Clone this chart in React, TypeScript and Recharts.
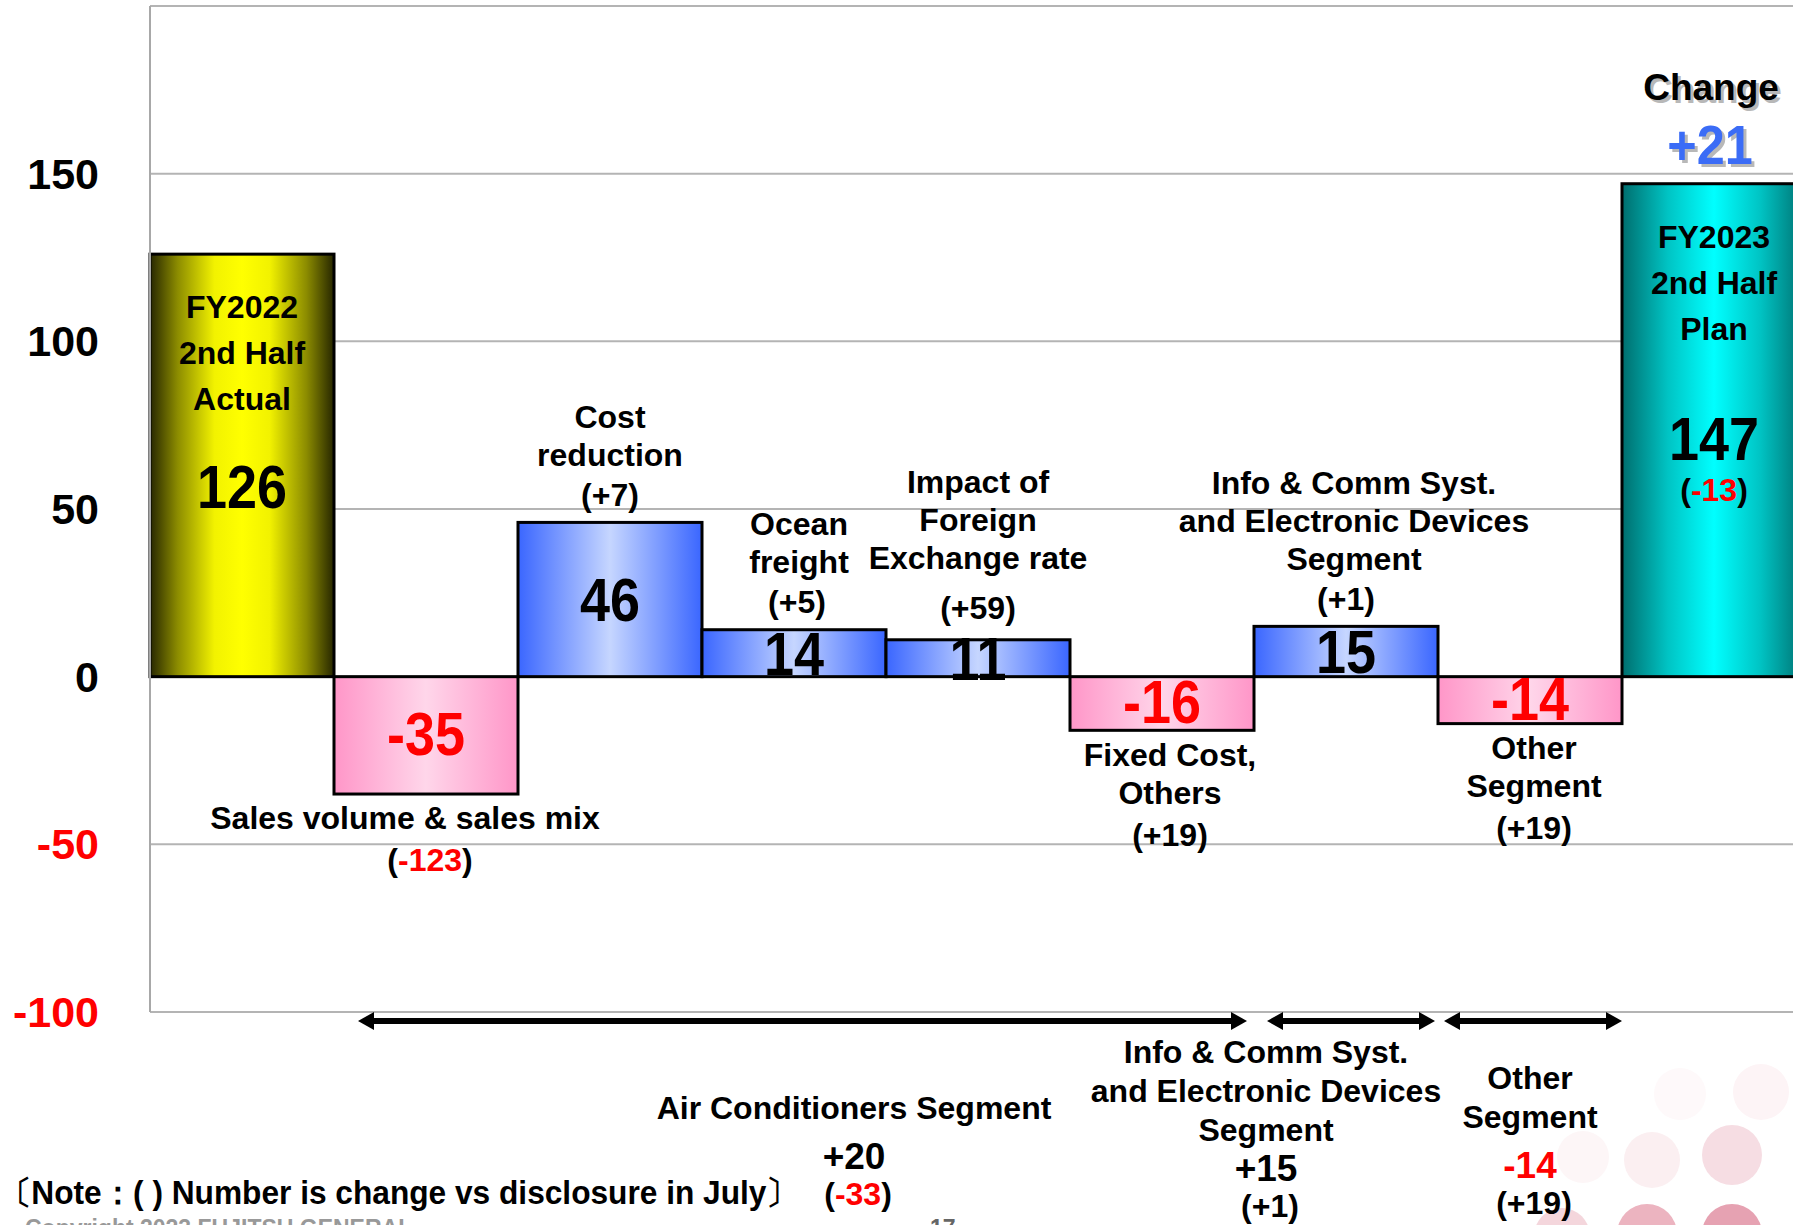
import React from 'react';
import { BarChart, Bar, XAxis, YAxis, CartesianGrid, ReferenceArea } from 'recharts';

const FONT = '"Liberation Sans", Arial, Helvetica, sans-serif';

// ---------- data ----------
const categories = [
  'FY2022 2nd Half Actual',
  'Sales volume & sales mix',
  'Cost reduction',
  'Ocean freight',
  'Impact of Foreign Exchange rate',
  'Fixed Cost, Others',
  'Info & Comm Syst. and Electronic Devices Segment',
  'Other Segment',
  'FY2023 2nd Half Plan',
];
const values = [126, -35, 46, 14, 11, -16, 15, -14, 147];
const labelLines = [
  ['FY2022', '2nd Half', 'Actual'],
  ['Sales volume & sales mix'],
  ['Cost', 'reduction'],
  ['Ocean', 'freight'],
  ['Impact of', 'Foreign', 'Exchange rate'],
  ['Fixed Cost,', 'Others'],
  ['Info & Comm Syst.', 'and Electronic Devices', 'Segment'],
  ['Other', 'Segment'],
  ['FY2023', '2nd Half', 'Plan'],
];
const notes = ['', '-123', '+7', '+5', '+59', '+19', '+1', '+19', '-13'];
const yTicks = [-100, -50, 0, 50, 100, 150, 200];
const changeTitle = 'Change';
const changeValue = '+21';

const segNames = [
  ['Air Conditioners Segment'],
  ['Info & Comm Syst.', 'and Electronic Devices', 'Segment'],
  ['Other', 'Segment'],
];
const segValues = ['+20', '+15', '-14'];
const segNotes = ['-33', '+1', '+19'];
const segFrom = [categories[1], categories[6], categories[7]];
const segTo = [categories[5], categories[6], categories[7]];

const noteText = '〔Note：(   ) Number is change vs disclosure in July〕';
const copyright = 'Copyright 2023 FUJITSU GENERAL';
const pageNo = '17';

// ---------- layout (positions/styles only) ----------
const extraNoteGap: Record<number, number> = { 4: 10 };
const noteDy: Record<number, number> = { 4: -4 };
const nameDx: Record<number, number> = { 1: -21, 3: 5, 5: 8, 6: 8, 7: 4 };
const noteDx: Record<number, number> = { 1: 4, 3: 3, 5: 8, 7: 4 };
const totalValueDy: Record<number, number> = { 0: 232, 8: 255 };
const segInset = [[24, -7], [13, -3], [6, 0]];
const segDx = [60, -80, 0];
const segNoteDy = [182, 194, 191];
const segNameGap = [48, 38, 48];

const data = categories.map((name, i) => ({ name, value: values[i] }));

const RED = '#ff0000';

const T = ({ x, y, size = 32, sx = 1, fill = '#000', anchor = 'middle', children, shadow }: any) => (
  <g>
    {shadow && (
      <text transform={`translate(${x + 3},${y + 3}) scale(${sx},1)`} textAnchor={anchor} dy="0.35em"
        fontSize={size} fontWeight="bold" fontFamily={FONT} fill="#b8b8b8">{children}</text>
    )}
    <text transform={`translate(${x},${y}) scale(${sx},1)`} textAnchor={anchor} dy="0.35em"
      fontSize={size} fontWeight="bold" fontFamily={FONT} fill={fill}>{children}</text>
  </g>
);

const Note = ({ x, y, note, size = 32 }: any) => (
  <T x={x} y={y} size={size}>
    ({<tspan fill={note.startsWith('-') ? RED : '#000'}>{note}</tspan>})
  </T>
);

const BarShape = (props: any) => {
  const { x, y, width, height } = props;
  let index = props.index;
  if (index === undefined || index === null) index = categories.indexOf(props.payload?.name);
  const top = Math.min(y, y + height);
  const bottom = Math.max(y, y + height);
  const v = values[index];
  const last = categories.length - 1;
  const kind = index === 0 ? 'start' : index === last ? 'end' : v >= 0 ? 'up' : 'down';
  const fill = { start: 'url(#gYellow)', end: 'url(#gCyan)', up: 'url(#gBlue)', down: 'url(#gPink)' }[kind];
  const cx = x + width / 2;
  const lines = labelLines[index];
  const note = notes[index];
  const els: any[] = [];
  const ncx = cx + (nameDx[index] || 0);
  const nocx = cx + (noteDx[index] || 0);

  if (kind === 'start' || kind === 'end') {
    lines.forEach((l, i) => els.push(<T key={'n' + i} x={cx} y={top + 53 + 46 * i} size={32}>{l}</T>));
    const vy = top + totalValueDy[index];
    els.push(<T key="v" x={cx} y={vy} size={62} sx={0.87}>{v}</T>);
    if (note) els.push(<Note key="note" x={cx} y={vy + 51} note={note} />);
    if (kind === 'end') {
      els.push(<T key="ct" x={cx - 3} y={top - 97} size={37} shadow>{changeTitle}</T>);
      els.push(<T key="cv" x={cx - 4} y={top - 39} size={56} sx={0.9} fill="#3b6cf6" shadow>{changeValue}</T>);
    }
  } else if (kind === 'up') {
    els.push(<T key="v" x={cx} y={(top + bottom) / 2} size={62} sx={0.87}>{v}</T>);
    const noteY = top - 28 + (noteDy[index] || 0);
    els.push(<Note key="note" x={nocx} y={noteY} note={note} />);
    const gap = 40 + (extraNoteGap[index] || 0);
    const n = lines.length;
    lines.forEach((l, i) => els.push(<T key={'n' + i} x={ncx} y={noteY - gap - 38 * (n - 1 - i)}>{l}</T>));
  } else {
    els.push(<T key="v" x={cx} y={(top + bottom) / 2 - 2} size={62} sx={0.87} fill={RED}>{v}</T>);
    lines.forEach((l, i) => els.push(<T key={'n' + i} x={ncx} y={bottom + 24 + 38 * i}>{l}</T>));
    const noteY = bottom + 24 + 38 * (lines.length - 1) + 42;
    els.push(<Note key="note" x={nocx} y={noteY} note={note} />);
  }

  return (
    <g>
      <rect x={x} y={top} width={width} height={bottom - top} fill={fill} stroke="#000" strokeWidth={3} />
      {els}
    </g>
  );
};

const makeSegShape = (idx: number) => (props: any) => {
  const { x, y, width } = props;
  const x1 = x + segInset[idx][0];
  const x2 = x + width + segInset[idx][1];
  const ay = y + 9;
  const hl = 16, hh = 9;
  const cx = x + width / 2 + segDx[idx];
  const noteY = y + segNoteDy[idx];
  const valY = noteY - 38;
  const names = segNames[idx];
  const n = names.length;
  const val = segValues[idx];
  return (
    <g>
      <line x1={x1 + hl - 2} y1={ay} x2={x2 - hl + 2} y2={ay} stroke="#000" strokeWidth={6} />
      <polygon points={`${x1},${ay} ${x1 + hl},${ay - hh} ${x1 + hl},${ay + hh}`} fill="#000" />
      <polygon points={`${x2},${ay} ${x2 - hl},${ay - hh} ${x2 - hl},${ay + hh}`} fill="#000" />
      {names.map((l, i) => (
        <T key={i} x={cx} y={valY - segNameGap[idx] - 39 * (n - 1 - i)}>{l}</T>
      ))}
      <T x={cx} y={valY} size={37} fill={val.startsWith('-') ? RED : '#000'}>{val}</T>
      <Note x={cx + 4} y={noteY} note={segNotes[idx]} />
    </g>
  );
};

const YTick = (props: any) => {
  const { x, y, payload } = props;
  if (payload.value === 200) return <g />;
  return (
    <text x={x} y={y} dy="0.35em" textAnchor="end" fontSize={43} fontWeight="bold" fontFamily={FONT}
      fill={payload.value < 0 ? RED : '#000'}>{payload.value}</text>
  );
};

const circles = [
  { cx: 1732, cy: 1155, r: 30, c: '#f6dde3' },
  { cx: 1652, cy: 1160, r: 28, c: '#fbeff1' },
  { cx: 1583, cy: 1157, r: 26, c: '#fdf6f7' },
  { cx: 1761, cy: 1092, r: 28, c: '#fdf4f6' },
  { cx: 1680, cy: 1094, r: 26, c: '#fef9fa' },
  { cx: 1647, cy: 1234, r: 30, c: '#ecb4c0' },
  { cx: 1732, cy: 1234, r: 30, c: '#e6a2b2' },
  { cx: 1562, cy: 1236, r: 28, c: '#f4d6dc' },
];

export default function App() {
  return (
    <div style={{ position: 'fixed', left: 0, top: 0, width: 1793, height: 1225, overflow: 'hidden', background: '#fff' }}>
      <svg width={1793} height={1225} style={{ position: 'absolute', left: 0, top: 0 }}>
        {circles.map((c, i) => <circle key={i} cx={c.cx} cy={c.cy} r={c.r} fill={c.c} />)}
        <text transform="translate(0,1192) scale(0.96,1)" dy="0.35em" fontSize={33} fontWeight="bold"
          fontFamily={FONT} fill="#000">{noteText}</text>
        <text x={25} y={1236} fontSize={23} fontWeight="bold" fontFamily={FONT} fill="#999">{copyright}</text>
        <text x={930} y={1236} fontSize={23} fontWeight="bold" fontFamily={FONT} fill="#666">{pageNo}</text>
      </svg>
      <div style={{ position: 'absolute', left: 0, top: 0 }}>
        <BarChart width={1806} height={1225} data={data} margin={{ top: 6, right: 0, bottom: 213, left: 0 }}
          barCategoryGap={0} barGap={0}>
          <defs>
            <linearGradient id="gYellow" x1="0" y1="0" x2="1" y2="0">
              <stop offset="0" stopColor="#262600" />
              <stop offset="0.15" stopColor="#8c8c00" />
              <stop offset="0.35" stopColor="#f2f200" />
              <stop offset="0.5" stopColor="#ffff00" />
              <stop offset="0.65" stopColor="#f2f200" />
              <stop offset="0.85" stopColor="#8c8c00" />
              <stop offset="1" stopColor="#262600" />
            </linearGradient>
            <linearGradient id="gBlue" x1="0" y1="0" x2="1" y2="0">
              <stop offset="0" stopColor="#3a66ff" />
              <stop offset="0.5" stopColor="#c6d6ff" />
              <stop offset="1" stopColor="#3a66ff" />
            </linearGradient>
            <linearGradient id="gPink" x1="0" y1="0" x2="1" y2="0">
              <stop offset="0" stopColor="#ff96c8" />
              <stop offset="0.5" stopColor="#ffd6ea" />
              <stop offset="1" stopColor="#ff96c8" />
            </linearGradient>
            <linearGradient id="gCyan" x1="0" y1="0" x2="1" y2="0">
              <stop offset="0" stopColor="#006e6e" />
              <stop offset="0.25" stopColor="#00c4c4" />
              <stop offset="0.5" stopColor="#00ffff" />
              <stop offset="0.75" stopColor="#00c4c4" />
              <stop offset="1" stopColor="#006e6e" />
            </linearGradient>
          </defs>
          <CartesianGrid vertical={false} stroke="#b4b4b4" strokeWidth={2} />
          <XAxis dataKey="name" type="category" hide />
          <YAxis type="number" domain={[-100, 200]} ticks={yTicks} width={150} tickSize={0} tickMargin={51}
            axisLine={{ stroke: '#a8a8a8', strokeWidth: 2 }} tickLine={false} tick={<YTick />} interval={0} />
          <Bar dataKey="value" isAnimationActive={false} shape={BarShape} />
          {segFrom.map((f, i) => (
            <ReferenceArea key={i} x1={f} x2={segTo[i]} y1={-100} y2={-110} ifOverflow="visible"
              shape={makeSegShape(i)} />
          ))}
        </BarChart>
      </div>
    </div>
  );
}
